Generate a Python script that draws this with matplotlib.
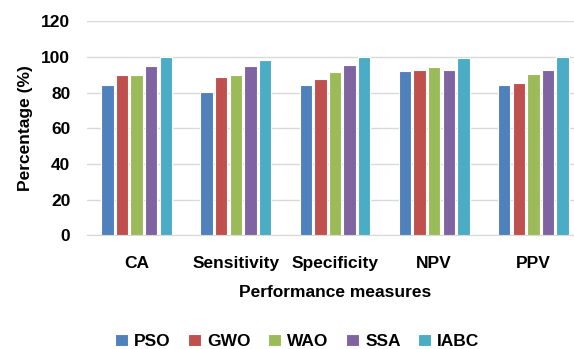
import matplotlib.pyplot as plt
import numpy as np

# values
measures = ["CA", "Sensitivity", "Specificity", "NPV", "PPV"]
methods = ["PSO", "GWO", "WAO", "SSA", "IABC"]
pso = [84.5, 80.4, 84.5, 92.0, 84.5]
gwo = [89.7, 88.8, 87.8, 92.5, 85.4]
wao = [90.1, 90.1, 91.6, 94.2, 90.6]
ssa = [94.8, 94.8, 95.7, 92.9, 92.5]
iabc = [99.8, 98.3, 100.0, 99.3, 100.0]
series = [pso, gwo, wao, ssa, iabc]
colors = ["#4F81BD", "#C0504D", "#9BBB59", "#8064A2", "#4BACC6"]

plt.rcParams["font.family"] = ["Liberation Sans", "DejaVu Sans"]
plt.rcParams["font.weight"] = "bold"
fs = 12.5

fig = plt.figure(figsize=(5.74, 3.49), dpi=100)
ax = fig.add_axes([87 / 574, 113.7 / 349, 496 / 574, 214 / 349])

x = np.arange(len(measures))
pitch = 0.147
width = 0.125
for i, (name, vals, c) in enumerate(zip(methods, series, colors)):
    ax.bar(x + (i - 2) * pitch, vals, width, color=c, edgecolor="white",
           linewidth=0.8, label=name, zorder=3)

ax.set_xlim(-0.5, 4.5)
ax.set_ylim(0, 120)
ax.set_yticks(range(0, 121, 20))
ax.set_xticks(x)
ax.set_xticklabels(measures, fontsize=fs, fontweight="bold")
ax.tick_params(axis="y", labelsize=fs, length=0, pad=12)
ax.tick_params(axis="x", length=0, pad=15)
for lab in ax.get_yticklabels():
    lab.set_fontweight("bold")

ax.grid(axis="y", color="#D9D9D9", linewidth=1, zorder=0)
for s in ["top", "right", "left"]:
    ax.spines[s].set_visible(False)
ax.spines["bottom"].set_color("#D9D9D9")

ax.set_xlabel("Performance measures", fontsize=fs, fontweight="bold", labelpad=10)
ax.set_ylabel("Percentage (%)", fontsize=fs, fontweight="bold", labelpad=6)

fig.legend(loc="lower center", bbox_to_anchor=(0.518, -0.045), ncol=5, frameon=False,
           handlelength=0.75, handleheight=0.75, columnspacing=1.0,
           handletextpad=0.35, prop={"weight": "bold", "size": fs})

fig.savefig("out.png", dpi=100)
